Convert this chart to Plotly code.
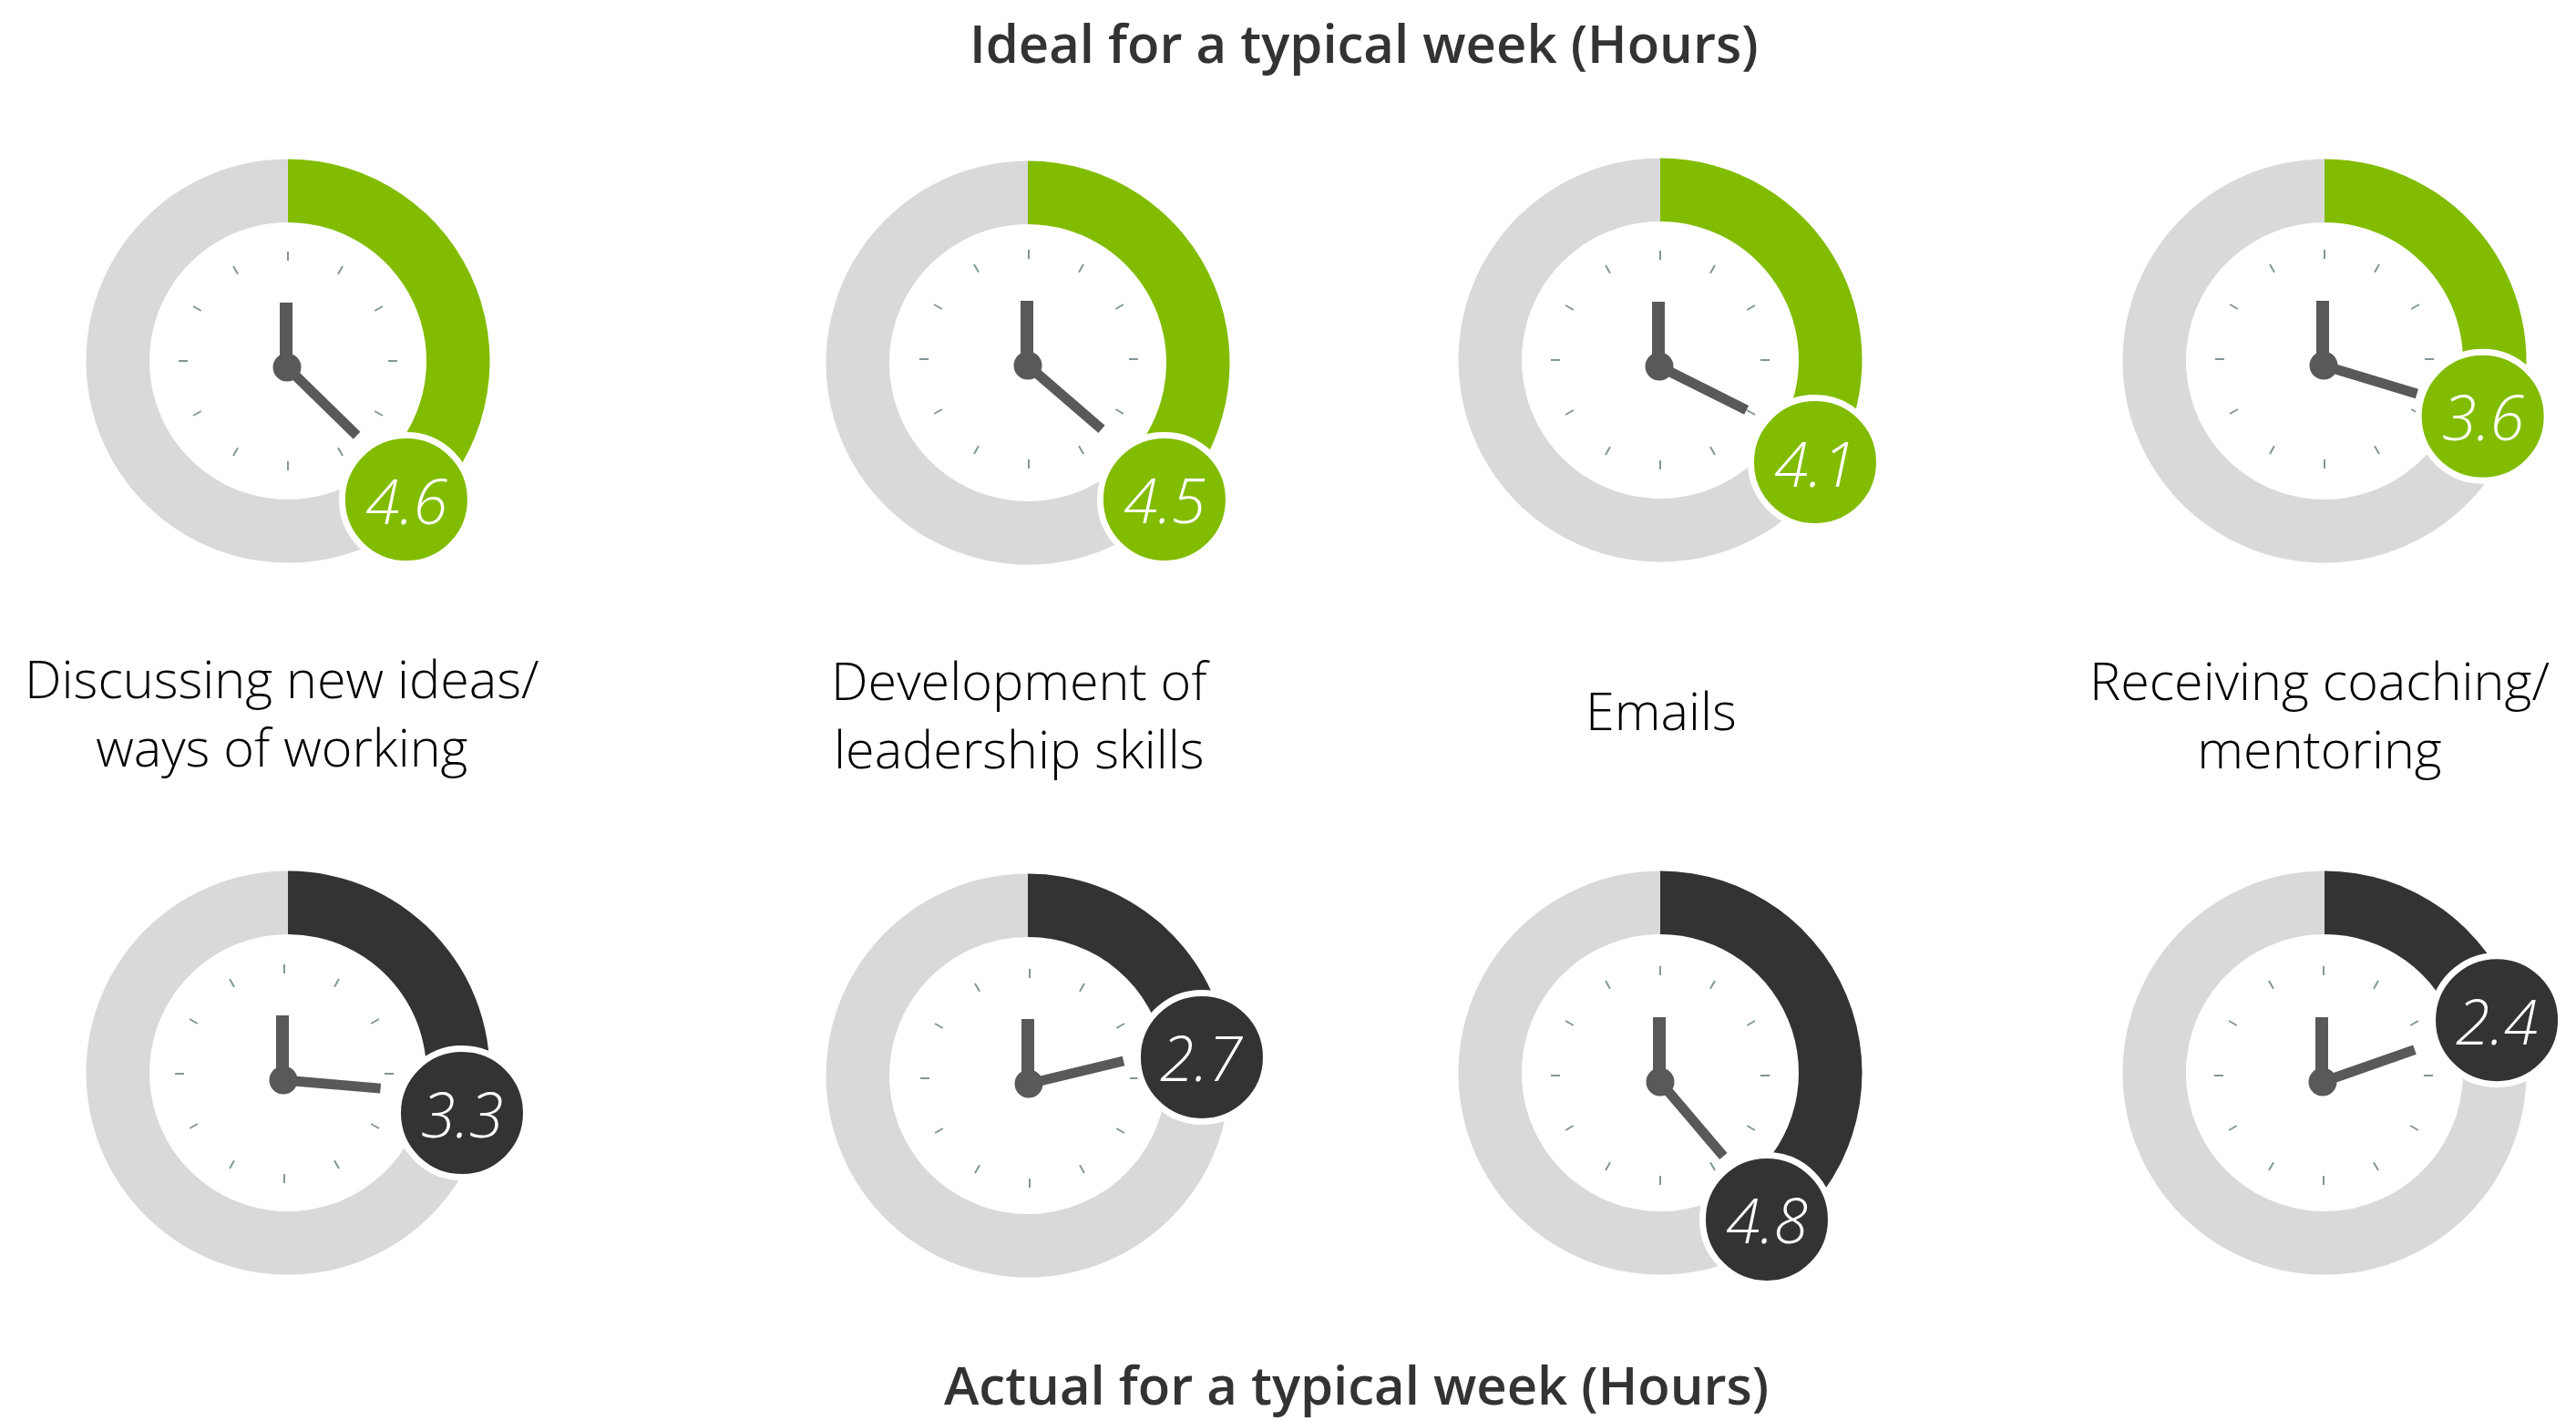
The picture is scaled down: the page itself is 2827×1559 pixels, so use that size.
import math
import plotly.graph_objects as go

WIDTH, HEIGHT = 2827, 1559

# ---- data ----
categories = ["Discussing new ideas/<br>ways of working", "Development of<br>leadership skills",
              "Emails", "Receiving coaching/<br>mentoring"]
ideal_hours = [4.6, 4.5, 4.1, 3.6]
actual_hours = [3.3, 2.7, 4.8, 2.4]
clock_hours = 12

# ---- layout of each dial (pixels on the page) ----
GREEN, DARK, GREY = "#81BC00", "#333333", "#D9D9D9"
HAND, TICK = "#595959", "#829696"
R_OUT, R_IN = 221.5, 152
BUBBLE_R = 67
hours = ideal_hours + actual_hours
colors = [GREEN] * 4 + [DARK] * 4
ring_x = [316, 1128, 1822, 2551, 316, 1128, 1822, 2551]
ring_y = [396, 398, 395, 396, 1177, 1180, 1177, 1177]
tick_x = [316, 1129, 1822, 2551, 312, 1130, 1822, 2550]
tick_y = [396, 394, 395, 394, 1178, 1183, 1180, 1180]
pivot_x = [315, 1128, 1821, 2550, 311, 1129, 1822, 2549]
pivot_y = [403, 401, 402, 401, 1185, 1189, 1187, 1187]
hand_lag = [3.7, 4.2, 6.4, 1.2, 4.1, 4.5, 4.4, 1.3]      # degrees behind the true hour angle
bubble_dist = [200, 212, 203.6, 184, 196, 192, 199, 197.7]
bubble_lead = [1.5, 0, 0.4, 1.3, 4, 3, 0, 1]             # degrees ahead of the true hour angle
label_x = [309, 1120, 1823, 2545]
label_y = [781, 783, 779, 783]


def polar(cx, cy, r, deg):
    a = math.radians(deg)
    return cx + r * math.sin(a), cy - r * math.cos(a)


fig = go.Figure()
shapes, annotations = [], []
FONT = "Open Sans"

for i, h in enumerate(hours):
    cx, cy = ring_x[i], ring_y[i]
    deg = h / clock_hours * 360

    # dial ring, a real pie with a hole
    fig.add_trace(go.Pie(
        values=[h, clock_hours - h], sort=False, direction="clockwise", rotation=0,
        hole=R_IN / R_OUT, textinfo="none", hoverinfo="skip", showlegend=False,
        marker=dict(colors=[colors[i], GREY], line=dict(width=0)),
        domain=dict(x=[(cx - R_OUT) / WIDTH, (cx + R_OUT) / WIDTH],
                    y=[1 - (cy + R_OUT) / HEIGHT, 1 - (cy - R_OUT) / HEIGHT]),
    ))

    # twelve hour ticks
    tx, ty = [], []
    for k in range(clock_hours):
        x0, y0 = polar(tick_x[i], tick_y[i], 110, k * 30)
        x1, y1 = polar(tick_x[i], tick_y[i], 120, k * 30)
        tx += [x0, x1, None]
        ty += [y0, y1, None]
    fig.add_trace(go.Scatter(x=tx, y=ty, mode="lines", showlegend=False, hoverinfo="skip",
                             line=dict(color=TICK, width=2)))

    # minute hand, hour hand, pivot
    px, py = pivot_x[i], pivot_y[i]
    fig.add_trace(go.Scatter(x=[px - 1, px - 1], y=[py, py - 71], mode="lines", showlegend=False,
                             hoverinfo="skip", line=dict(color=HAND, width=14)))
    ex, ey = polar(px, py, 107, deg - hand_lag[i])
    fig.add_trace(go.Scatter(x=[px, ex], y=[py, ey], mode="lines", showlegend=False,
                             hoverinfo="skip", line=dict(color=HAND, width=11)))
    fig.add_trace(go.Scatter(x=[px], y=[py], mode="markers", showlegend=False, hoverinfo="skip",
                             marker=dict(color=HAND, size=31, line=dict(width=0))))

    # value bubble at the tip of the arc
    bx, by = polar(cx, cy, bubble_dist[i], deg + bubble_lead[i])
    rr = BUBBLE_R + 3.5
    shapes.append(dict(type="circle", xref="x", yref="y", layer="above",
                       x0=bx - rr, x1=bx + rr, y0=by - rr, y1=by + rr,
                       fillcolor=colors[i], line=dict(color="white", width=7)))
    annotations.append(dict(x=bx, y=by, xref="x", yref="y", text=f"<i>{h}</i>", showarrow=False,
                            xanchor="center", yanchor="middle",
                            font=dict(family=FONT, size=68, color="white", weight=300)))

for name, x, y in zip(categories, label_x, label_y):
    annotations.append(dict(x=x, y=y, xref="x", yref="y", text=name, showarrow=False,
                            xanchor="center", yanchor="middle", align="center",
                            font=dict(family=FONT, size=57.5, color="#000000", weight=300)))

annotations.append(dict(x=1497, y=46, xref="x", yref="y", text="Ideal for a typical week (Hours)",
                        showarrow=False, xanchor="center", yanchor="middle",
                        font=dict(family=FONT, size=58, color=DARK, weight=600)))
annotations.append(dict(x=1488, y=1518, xref="x", yref="y", text="Actual for a typical week (Hours)",
                        showarrow=False, xanchor="center", yanchor="middle",
                        font=dict(family=FONT, size=58, color=DARK, weight=600)))

fig.update_layout(
    width=WIDTH, height=HEIGHT, margin=dict(l=0, r=0, t=0, b=0),
    paper_bgcolor="white", plot_bgcolor="rgba(0,0,0,0)", showlegend=False,
    xaxis=dict(range=[0, WIDTH], visible=False, fixedrange=True),
    yaxis=dict(range=[HEIGHT, 0], visible=False, fixedrange=True),
    shapes=shapes, annotations=annotations,
)
fig.write_html("out.html", config=dict(displayModeBar=False),
               post_script="document.body.style.margin='0';document.body.style.overflow='hidden';")
